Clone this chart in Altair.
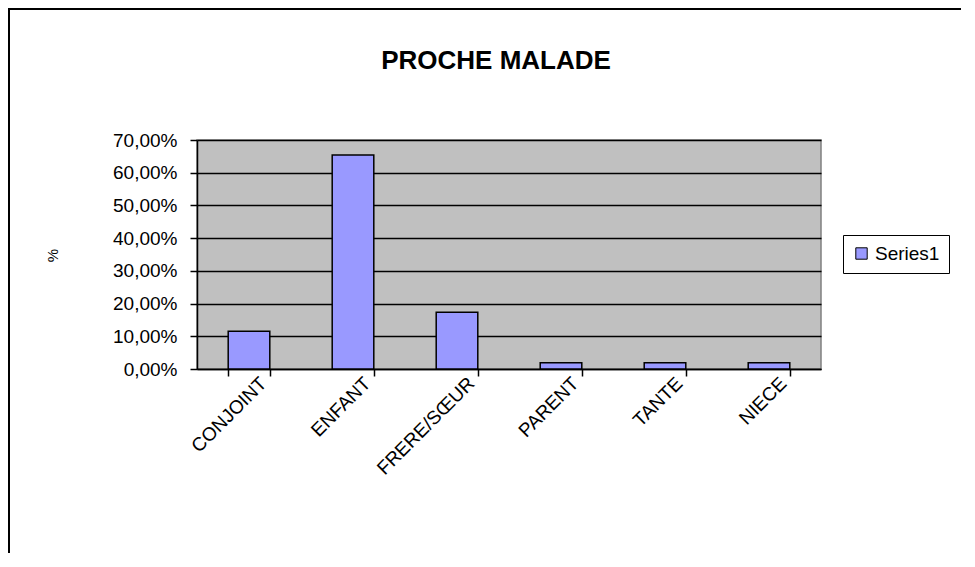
import altair as alt
import pandas as pd

categories = ["CONJOINT", "ENFANT", "FRERE/SŒUR", "PARENT", "TANTE", "NIECE"]
values = [0.1154, 0.6538, 0.1731, 0.0192, 0.0192, 0.0192]
series = ["Series1"] * len(categories)
y_ticks = [0, 0.1, 0.2, 0.3, 0.4, 0.5, 0.6, 0.7]

df = pd.DataFrame({"cat": categories, "val": values, "series": series})

FONT = "Liberation Sans"

bars = alt.Chart(df).mark_bar(stroke="black", strokeWidth=1.5).encode(
    x=alt.X(
        "cat:N",
        sort=categories,
        scale=alt.Scale(paddingInner=0.6, paddingOuter=0.3),
        axis=alt.Axis(
            title=None,
            labelAngle=-45,
            labelAlign="right",
            labelBaseline="middle",
            labelFontSize=19,
            labelColor="black",
            labelPadding=4,
            labelOffset=14,
            tickBand="extent",
            tickSize=7,
            tickColor="black",
            tickWidth=1.5,
            domainColor="black",
            domainWidth=1.5,
        ),
    ),
    y=alt.Y(
        "val:Q",
        scale=alt.Scale(domain=[0, 0.7], nice=False),
        axis=alt.Axis(
            title="%",
            values=y_ticks,
            labelExpr="replace(format(datum.value, '.2%'), '.', ',')",
            labelFontSize=19,
            labelColor="black",
            labelPadding=13,
            tickSize=7,
            tickColor="black",
            tickWidth=1.5,
            domainColor="black",
            domainWidth=1.5,
            grid=True,
            gridColor="black",
            gridWidth=1.5,
            titleFontSize=15,
            titleFontWeight="normal",
            titleColor="black",
            titleX=-137,
            titleY=115,
        ),
    ),
    color=alt.Color(
        "series:N",
        scale=alt.Scale(range=["#9999FF"]),
        legend=alt.Legend(
            title=None,
            orient="none",
            legendX=646,
            legendY=95,
            symbolType="square",
            symbolSize=130,
            symbolStrokeColor="black",
            symbolStrokeWidth=1,
            labelFontSize=19,
            labelColor="black",
            strokeColor="black",
            fillColor="white",
            padding=9,
        ),
    ),
)

frame_data = alt.Data(values=[{"a": 1}])
top_line = alt.Chart(frame_data).mark_rule(stroke="black", strokeWidth=2).encode(
    x=alt.value(-189),
    x2=alt.value(770),
    y=alt.value(-131),
)
left_line = alt.Chart(frame_data).mark_rule(stroke="black", strokeWidth=2).encode(
    x=alt.value(-188),
    y=alt.value(-132),
    y2=alt.value(420),
)

chart = (
    alt.layer(bars, top_line, left_line)
    .properties(
        width=624,
        height=229,
        autosize="none",
        padding={"left": 189, "top": 132, "right": 140, "bottom": 184},
        title=alt.TitleParams(
            "PROCHE MALADE",
            fontSize=26,
            fontWeight="bold",
            color="black",
            font=FONT,
            offset=-67,
            dx=-13,
            anchor="middle",
        ),
    )
    .configure(font=FONT, background="white")
    .configure_view(fill="#C0C0C0", stroke="#808080", strokeWidth=1.5)
)

chart.save("out.html", embed_options={"renderer": "svg", "actions": False})
